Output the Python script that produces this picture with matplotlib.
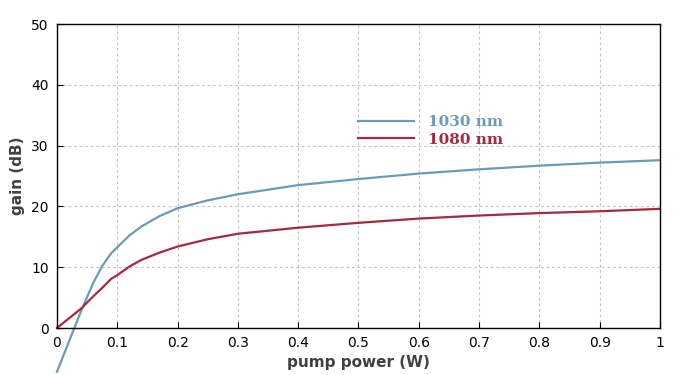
import numpy as np
import matplotlib.pyplot as plt

# pump power (W) and gain (dB)
power = [0.0, 0.02, 0.04, 0.06, 0.075, 0.09, 0.1, 0.12, 0.14, 0.17, 0.2, 0.25, 0.3,
         0.4, 0.5, 0.6, 0.7, 0.8, 0.9, 1.0]
gain_1030 = [-7.2, -2.2, 2.8, 7.4, 10.2, 12.3, 13.3, 15.2, 16.7, 18.4, 19.7, 21.0, 22.0,
             23.5, 24.5, 25.4, 26.1, 26.7, 27.2, 27.6]
gain_1080 = [0.0, 1.6, 3.2, 5.2, 6.6, 8.1, 8.7, 10.1, 11.2, 12.4, 13.4, 14.6, 15.5,
             16.5, 17.3, 18.0, 18.5, 18.9, 19.2, 19.6]
labels = ['1030 nm', '1080 nm']
colors = ['#6b9abb', '#a52a40']

fig = plt.figure(figsize=(7, 3.75), dpi=100)
ax = fig.add_axes([0.0814, 0.1253, 0.8614, 0.8107])

for g, lab, c in zip([gain_1030, gain_1080], labels, colors):
    ax.plot(power, g, color=c, lw=1.6, label=lab, clip_on=False)

ax.set_xlim(0, 1)
ax.set_ylim(0, 50)
ax.set_xticks(np.arange(0, 1.01, 0.1))
ax.set_xticklabels(['0', '0.1', '0.2', '0.3', '0.4', '0.5', '0.6', '0.7', '0.8', '0.9', '1'])
ax.set_yticks(range(0, 51, 10))
ax.tick_params(direction='in', labelsize=10, colors='black', length=4, pad=6)
ax.grid(True, color='#c4c4c4', ls=(0, (2.5, 2.5)), lw=0.8)
for s in ax.spines.values():
    s.set_linewidth(1.0)

ax.set_xlabel('pump power (W)', fontsize=11, fontweight='bold', color='#404040', labelpad=3)
ax.set_ylabel('gain (dB)', fontsize=11, fontweight='bold', color='#404040', labelpad=4)

leg = ax.legend(loc='upper left', bbox_to_anchor=(0.477, 0.745), frameon=False,
                handlelength=3.65, handletextpad=0.9, labelspacing=0.22,
                labelcolor=colors, prop={'family': 'DejaVu Serif', 'weight': 'bold', 'size': 11})

fig.savefig('out.png')
